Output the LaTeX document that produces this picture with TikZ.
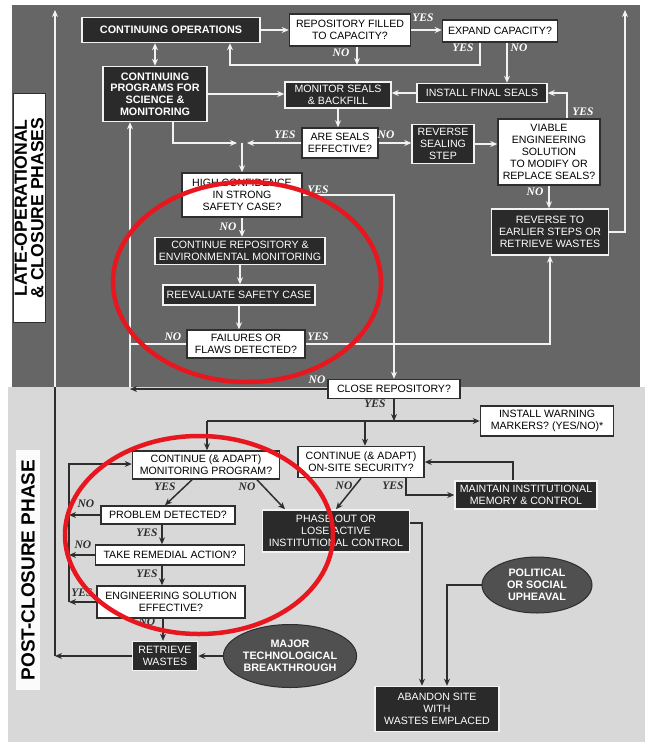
\documentclass[tikz,border=0pt]{standalone}
\usepackage{fontspec}
\setmainfont{Liberation Serif}
\setsansfont{Liberation Sans}
\usetikzlibrary{arrows.meta,shapes.geometric}
\definecolor{darkbg}{HTML}{666666}
\definecolor{lightbg}{HTML}{D8D8D8}
\definecolor{boxdark}{HTML}{2A2A2A}
\definecolor{dcol}{HTML}{2E2E2E}
\definecolor{wcol}{HTML}{F2F2F2}
\definecolor{ellfill}{HTML}{505050}
\definecolor{redmark}{HTML}{E8161E}
\tikzset{
  box/.style={align=center, inner sep=0pt, line width=1.5pt, font=\sffamily\fontsize{10.6}{12}\selectfont},
  dbox/.style={box, fill=boxdark, draw=wcol, text=white},
  wbox/.style={box, fill=white, draw=dcol, text=black},
  bfbox/.style={font=\sffamily\bfseries\fontsize{10.8}{11.8}\selectfont},
  ellbox/.style={ellipse, box, fill=ellfill, draw=dcol, line width=1pt, text=white, bfbox},
  warr/.style={draw=wcol, line width=1.5pt, -{Stealth[length=7pt,width=6pt]}},
  wseg/.style={draw=wcol, line width=1.5pt},
  darr/.style={draw=dcol, line width=1.5pt, -{Stealth[length=7pt,width=6pt]}},
  dseg/.style={draw=dcol, line width=1.5pt},
  yn/.style={font=\rmfamily\bfseries\itshape\fontsize{11.5}{12}\selectfont, inner sep=0pt},
  wyn/.style={yn, text=white},
  dyn/.style={yn, text=dcol},
  side/.style={font=\sffamily\bfseries\fontsize{17.6}{16.5}\selectfont, align=center, inner sep=0pt, rotate=90},
  redring/.style={draw=redmark, line width=4.5pt},
}
\begin{document}
\begin{tikzpicture}[x=1pt,y=-1pt]
% backgrounds
\fill[white] (0,0) rectangle (645,742);
\useasboundingbox (0,0) rectangle (645,742);
\fill[darkbg] (12,5) rectangle (640,387);
\fill[lightbg] (8,387) rectangle (645,742);

% side labels
\node[side, fill=white, draw=dcol, line width=0.6pt, minimum width=229, minimum height=32] (lop) at (29,208) {LATE-OPERATIONAL\\\& CLOSURE PHASES};
\node[side, fill=white!90!lightbg, minimum width=240, minimum height=24, text=black, font=\sffamily\bfseries\fontsize{19}{17}\selectfont] (pcp) at (28,570) {POST-CLOSURE PHASE};

% ---------- upper nodes
\node[dbox, bfbox, minimum width=178, minimum height=25] (co) at (171,30) {CONTINUING OPERATIONS};
\node[wbox, minimum width=121, minimum height=32] (rf) at (350,30) {REPOSITORY FILLED\\TO CAPACITY?};
\node[wbox, minimum width=115, minimum height=22] (ec) at (500,31) {EXPAND CAPACITY?};
\node[dbox, minimum width=130, minimum height=19] (ifs) at (482,93) {INSTALL FINAL SEALS};
\node[dbox, minimum width=106, minimum height=26] (ms) at (338,95) {MONITOR SEALS\\\& BACKFILL};
\node[dbox, bfbox, minimum width=104, minimum height=55] (cp) at (155,94) {CONTINUING\\PROGRAMS FOR\\SCIENCE \&\\MONITORING};
\node[wbox, minimum width=76, minimum height=30] (ase) at (340,143) {ARE SEALS\\EFFECTIVE?};
\node[dbox, minimum width=62, minimum height=39] (rss) at (443,144) {REVERSE\\SEALING\\STEP};
\node[wbox, minimum width=102, minimum height=66] (ves) at (549,152) {VIABLE\\ENGINEERING\\SOLUTION\\TO MODIFY OR\\REPLACE SEALS?};
\node[dbox, minimum width=117, minimum height=46] (rte) at (550,232) {REVERSE TO\\EARLIER STEPS OR\\RETRIEVE WASTES};
\node[wbox, minimum width=120, minimum height=44] (hc) at (242,195) {HIGH CONFIDENCE\\IN STRONG\\SAFETY CASE?};
\node[dbox, minimum width=170, minimum height=27] (crm) at (240,251) {CONTINUE REPOSITORY \&\\ENVIRONMENTAL MONITORING};
\node[dbox, minimum width=152, minimum height=20] (rsc) at (239,295) {REEVALUATE SAFETY CASE};
\node[wbox, minimum width=118, minimum height=28] (ffd) at (246,344) {FAILURES OR\\FLAWS DETECTED?};
\node[wbox, minimum width=132, minimum height=19] (cr) at (394,389) {CLOSE REPOSITORY?};

% ---------- lower nodes
\node[wbox, minimum width=133, minimum height=30] (iwm) at (547,421) {INSTALL WARNING\\MARKERS? (YES/NO)*};
\node[wbox, minimum width=147, minimum height=28] (cmp) at (206,465) {CONTINUE (\& ADAPT)\\MONITORING PROGRAM?};
\node[wbox, minimum width=126, minimum height=31] (cos) at (361,462) {CONTINUE (\& ADAPT)\\ON-SITE SECURITY?};
\node[dbox, minimum width=142, minimum height=28] (mim) at (526,495) {MAINTAIN INSTITUTIONAL\\MEMORY \& CONTROL};
\node[dbox, minimum width=147, minimum height=42] (po) at (336,531) {PHASE OUT OR\\LOSE ACTIVE\\INSTITUTIONAL CONTROL};
\node[wbox, minimum width=134, minimum height=18] (pd) at (168,515) {PROBLEM DETECTED?};
\node[wbox, minimum width=149, minimum height=20] (tra) at (170,555) {TAKE REMEDIAL ACTION?};
\node[wbox, minimum width=148, minimum height=32] (esf) at (171,602) {ENGINEERING SOLUTION\\EFFECTIVE?};
\node[dbox, minimum width=65, minimum height=29] (rw) at (165,656) {RETRIEVE\\WASTES};
\node[ellbox, minimum width=124, minimum height=63] (mtb) at (290,656) {MAJOR\\TECHNOLOGICAL\\BREAKTHROUGH};
\node[ellbox, minimum width=110, minimum height=56] (pu) at (537,585) {POLITICAL\\OR SOCIAL\\UPHEAVAL};
\node[dbox, minimum width=124, minimum height=45] (ab) at (437,709) {ABANDON SITE\\WITH\\WASTES EMPLACED};

% ---------- junction coordinates
\coordinate (j1) at (230,65);
\coordinate (j2) at (480,65);
\coordinate (j3) at (357,65);
\coordinate (jm) at (242,143);
\coordinate (rtop) at (625,10);
\coordinate (jb) at (130,389);
\coordinate (lb) at (55,656);
\coordinate (lm) at (55,387);
\coordinate (lt) at (55,10);
\coordinate (hl1) at (207,421);
\coordinate (hl2) at (365,421);
\coordinate (lpt) at (69,464);
\coordinate (lpb) at (69,602);

% ---------- upper connectors
\draw[warr] (co.east) -- (co.east -| rf.west);
\draw[warr] (rf.east) -- (rf.east -| ec.west);
\draw[wseg, {Stealth[length=7pt,width=6pt]}-{Stealth[length=7pt,width=6pt]}] (cp.north) -- (cp.north |- co.south);
\draw[warr] ([xshift=-20]ec.south) -- (j2) -- (j1) -- (co.south -| j1);
\draw[warr] ([xshift=7]rf.south) -- (j3);
\draw[warr] ([xshift=7]ec.south) -- ([xshift=7]ec.south |- ifs.north);
\draw[warr] (ifs.west) -- (ifs.west -| ms.east);
\draw[warr] (cp.east) -- (cp.east -| ms.west);
\draw[warr] (ms.south) -- (ms.south |- ase.north);
\draw[warr] (ase.west) -- ([xshift=5]jm);
\draw[warr] ([xshift=18]cp.south) -- ([xshift=18]cp.south |- jm) -- ([xshift=-5]jm);
\draw[warr] (jm) -- (jm |- hc.north);
\draw[warr] (ase.east) -- (ase.east -| rss.west);
\draw[warr] (rss.east) -- (rss.east -| ves.west);
\draw[warr] ([xshift=18]ves.north) -- ([xshift=18]ves.north |- ifs.east) -- (ifs.east);
\draw[warr] (ves.south) -- (ves.south |- rte.north);
\draw[warr] (rte.east) -| (rtop);
\draw[warr] (hc.east) -| (cr.north);
\draw[warr] (hc.south) -- (hc.south |- crm.north);
\draw[warr] (crm.south) -- (crm.south |- rsc.north);
\draw[warr] (rsc.south) -- (rsc.south |- ffd.north);
\draw[warr] (ffd.east) -| (rte.south);
\draw[wseg] (ffd.west) -- (ffd.west -| jb);
\draw[darr] (cr.west) -- (jb);
\draw[warr] ([yshift=2]jb) -- (jb |- cp.south);
\draw[darr] (rw.west) -- (lb);
\draw[dseg] (lb) -- (lm);
\draw[warr] (lm) -- (lt);

% ---------- lower connectors
\draw[darr] (cr.south) -- (cr.south |- hl2);
\draw[darr] (hl1) -- (hl1 -| iwm.west);
\draw[darr] (hl1) -- (hl1 |- cmp.north);
\draw[darr] (hl2) -- (hl2 |- cos.north);
\draw[darr] ([xshift=45]cos.south) |- (mim.west);
\draw[darr] ([xshift=-13]mim.north) |- (cos.east);
\draw[darr] (cos.south) -- (po.north);
\draw[darr] ([yshift=8]po.east) -| ([xshift=-15]ab.north);
\draw[darr] (pu.west) -| ([xshift=10]ab.north);
\draw[darr] ([xshift=-14]cmp.south) -- ([xshift=-3]pd.north);
\draw[darr] ([xshift=51]cmp.south) -- ([xshift=-51]po.north);
\draw[darr] ([xshift=-6]pd.south) -- ([xshift=-6]pd.south |- tra.north);
\draw[darr] (pd.west) -- (pd.west -| lpt);
\draw[darr] (tra.west) -- (tra.west -| lpt);
\draw[darr] ([xshift=-8]tra.south) -- ([xshift=-8]tra.south |- esf.north);
\draw[darr] (esf.west) -- (esf.west -| lpt);
\draw[darr] (lpb) -- (lpt) -- (lpt -| cmp.west);
\draw[darr] ([xshift=-8]esf.south) -- ([xshift=-8]esf.south |- rw.north);
\draw[darr] (mtb.west) -- (mtb.west -| rw.east);

% ---------- YES / NO labels
\node[wyn] (t1) at (423,18) {YES};
\node[wyn] (t2) at (341,53) {NO};
\node[wyn] (t3) at (463,48) {YES};
\node[wyn] (t4) at (519,48) {NO};
\node[wyn] (t5) at (285,135) {YES};
\node[wyn] (t6) at (386,135) {NO};
\node[wyn] (t7) at (583,112) {YES};
\node[wyn] (t8) at (535,192) {NO};
\node[wyn] (t9) at (318,190) {YES};
\node[wyn] (t10) at (228,227) {NO};
\node[wyn] (t11) at (173,337) {NO};
\node[wyn] (t12) at (318,337) {YES};
\node[wyn] (t13) at (317,380) {NO};
\node[dyn] (b1) at (375,404) {YES};
\node[dyn] (b2) at (165,487) {YES};
\node[dyn] (b3) at (247,487) {NO};
\node[dyn] (b4) at (344,486) {NO};
\node[dyn] (b5) at (393,486) {YES};
\node[dyn] (b6) at (86,504) {NO};
\node[dyn] (b7) at (147,533) {YES};
\node[dyn] (b8) at (83,545) {NO};
\node[dyn] (b9) at (147,574) {YES};
\node[dyn] (b10) at (82,593) {YES};
\node[dyn] (b11) at (147,622) {NO};

% ---------- red rings
\draw[redring] (247,282) ellipse [x radius=134pt, y radius=100pt];
\draw[redring] (199,535) ellipse [x radius=134pt, y radius=99pt];
\end{tikzpicture}
\end{document}
